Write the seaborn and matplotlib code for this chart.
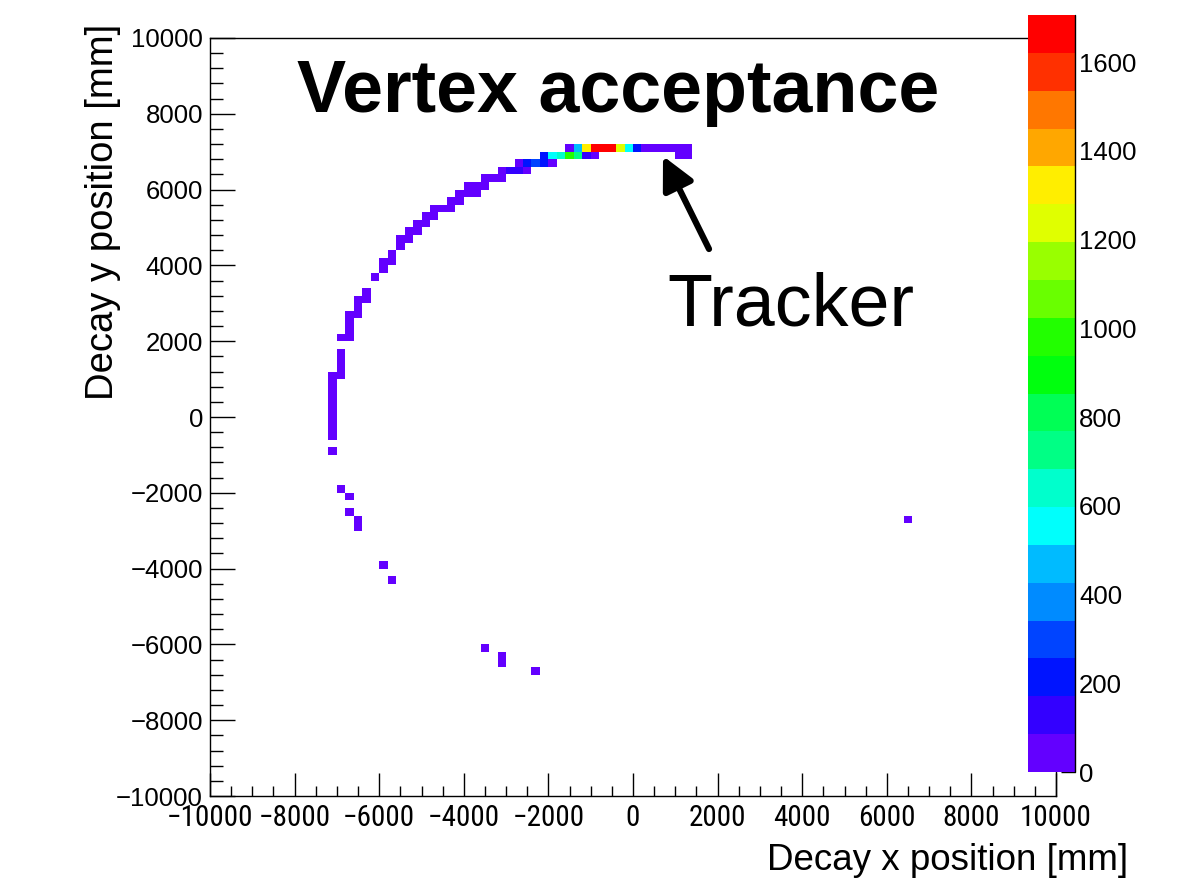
import os
import colorsys
import numpy as np
import pandas as pd
import matplotlib
matplotlib.use("Agg")
import matplotlib.pyplot as plt
from matplotlib.colors import ListedColormap
from matplotlib import font_manager
from matplotlib.font_manager import FontProperties
import seaborn as sns

# ---------------- data (2D histogram, 200 mm bins; bin centres in mm) ----------------
row_y_mm = [7100, 6900, 6700, 6500, 6300, 6100, 5900, 5700, 5500, 5300, 5100, 4900,
            4700, 4500, 4300, 4100, 3900, 3700, 3300, 3100, 2900, 2700, 2500, 2300,
            2100, 1700, 1500, 1300, 1100, 900, 700, 500, 300, 100, -100, -300, -500,
            -900, -1900, -2100, -2500, -2700, -2900, -3900, -4300, -6100, -6300,
            -6500, -6700]
row_x_mm = [
    [-1500, -1300, -1100, -900, -700, -500, -300, -100, 100, 300, 500, 700, 900, 1100, 1300],
    [-2100, -1900, -1700, -1500, -1300, -1100, -900, 1100, 1300],
    [-2700, -2500, -2300, -2100, -1900],
    [-3100, -2900, -2700, -2500],
    [-3500, -3300, -3100],
    [-3900, -3700, -3500],
    [-4100, -3900, -3700],
    [-4300, -4100],
    [-4700, -4500, -4300],
    [-4900, -4700],
    [-5100, -4900],
    [-5300, -5100],
    [-5500, -5300],
    [-5500],
    [-5700],
    [-5900, -5700],
    [-5900],
    [-6100],
    [-6300],
    [-6500, -6300],
    [-6500],
    [-6700, -6500],
    [-6700],
    [-6700],
    [-6900, -6700],
    [-6900],
    [-6900],
    [-6900],
    [-7100, -6900],
    [-7100], [-7100], [-7100], [-7100], [-7100], [-7100], [-7100], [-7100],
    [-7100],
    [-6900],
    [-6700],
    [-6700],
    [-6500, 6500],
    [-6500],
    [-5900],
    [-5700],
    [-3500],
    [-3100],
    [-3100],
    [-2300],
]
row_entries = [
    [50, 470, 1330, 1680, 1700, 1670, 1240, 560, 200, 60, 40, 40, 50, 60, 60],
    [220, 560, 640, 980, 720, 130, 50, 40, 40],
    [60, 190, 330, 230, 50],
    [40, 120, 130, 50],
    [30, 40, 40],
    [30, 30, 30],
    [20, 30, 20],
    [20, 20],
    [20, 20, 20],
    [20, 20],
    [20, 20],
    [20, 20],
    [20, 20],
    [15],
    [15],
    [15, 15],
    [15],
    [10],
    [10],
    [10, 10],
    [10],
    [10, 10],
    [10],
    [10],
    [10, 10],
    [10],
    [10],
    [10],
    [10, 10],
    [10], [10], [10], [10], [10], [10], [10], [10],
    [5],
    [5],
    [5],
    [5],
    [5, 5],
    [5],
    [5],
    [5],
    [5],
    [5],
    [5],
    [5],
]

z_max = 1706
cbar_ticks = [0, 200, 400, 600, 800, 1000, 1200, 1400, 1600]
axis_ticks = [-10000, -8000, -6000, -4000, -2000, 0, 2000, 4000, 6000, 8000, 10000]
axis_tick_labels = ["\u221210000", "\u22128000", "\u22126000", "\u22124000", "\u22122000",
                    "0", "2000", "4000", "6000", "8000", "10000"]

title_text = "Vertex acceptance"
note_text = "Tracker"
x_label = "Decay x position [mm]"
y_label = "Decay y position [mm]"

# ---------------- build table ----------------
xs, ys, ws = [], [], []
for yv, xrow, wrow in zip(row_y_mm, row_x_mm, row_entries):
    for xv, wv in zip(xrow, wrow):
        xs.append(xv)
        ys.append(yv)
        ws.append(wv)
df = pd.DataFrame({"x": xs, "y": ys, "w": ws})

# ---------------- style ----------------
sns.set_style("white")
plt.rcParams["font.family"] = ["Liberation Sans", "DejaVu Sans"]
plt.rcParams["axes.unicode_minus"] = True
for key in ["text.color", "axes.labelcolor", "xtick.color", "ytick.color", "axes.edgecolor"]:
    plt.rcParams[key] = "black"

# narrow font for the x tick labels if one is installed
xtick_fp = FontProperties(family="Liberation Sans", size=18.5)
prefs = [("liberationsansnarrow-regular", 23), ("robotocondensed-regular", 21),
         ("notosans-condensed.", 21), ("notosanscondensed-regular", 21),
         ("opensans_condensed-regular", 21), ("opensans-condensed", 21)]
paths = [f.fname for f in font_manager.fontManager.ttflist]
found = False
for key, size in prefs:
    for p in paths:
        if os.path.basename(p).lower().replace(" ", "").startswith(key):
            xtick_fp = FontProperties(fname=p, size=size)
            found = True
            break
    if found:
        break

# ROOT "pretty" palette, 20 contour levels
cols = []
for k in range(20):
    idx = int((k + 0.99) * 50 / 20)
    hue = 280.0 - (idx + 1) * (280.0 / 50)
    cols.append(colorsys.hls_to_rgb(hue / 360.0, 0.5, 1.0))
cmap = ListedColormap(cols)

W, H = 1194, 880
fig = plt.figure(figsize=(W / 100, H / 100), dpi=100)
fig.patch.set_facecolor("white")

ax = fig.add_axes([210 / W, 1 - 796 / H, 846 / W, 758 / H])
sns.histplot(data=df, x="x", y="y", weights="w", bins=100,
             binrange=((-10000, 10000), (-10000, 10000)),
             cmap=cmap, vmin=0, vmax=z_max, ax=ax, cbar=False)
ax.set_xlim(-10000, 10000)
ax.set_ylim(-10000, 10000)
ax.set_xlabel("")
ax.set_ylabel("")
ax.grid(False)
for sp in ax.spines.values():
    sp.set_linewidth(1.0)
    sp.set_color("black")

ax.set_xticks(axis_ticks, labels=axis_tick_labels, fontproperties=xtick_fp)
ax.set_yticks(axis_ticks)
ax.set_xticks(np.arange(-10000, 10001, 500), minor=True)
ax.set_yticks(np.arange(-10000, 10001, 400), minor=True)
ax.tick_params(axis="x", which="both", bottom=True, top=False, direction="in",
               width=1, color="black")
ax.tick_params(axis="x", which="major", length=16.5, pad=6)
ax.tick_params(axis="x", which="minor", length=7.5)
ax.tick_params(axis="y", which="both", left=True, right=False, direction="in",
               width=1, color="black")
ax.tick_params(axis="y", which="major", length=18, pad=5, labelsize=18.5)
ax.tick_params(axis="y", which="minor", length=9)

# colour bar (drawn over the right part of the frame, as in ROOT)
cax = fig.add_axes([1028 / W, 1 - 772 / H, 47 / W, 757 / H])
mesh = ax.collections[0]
cb = fig.colorbar(mesh, cax=cax, ticks=cbar_ticks)
cb.outline.set_visible(False)
cax.yaxis.set_ticks_position("right")
cax.tick_params(axis="y", which="major", right=True, left=False, direction="in",
                length=10, width=1, color="black", pad=3, labelsize=18.5)
cax.tick_params(axis="y", which="minor", length=0)
cax.plot([1, 1], [0, 1], transform=cax.transAxes, color="black", lw=1, clip_on=False)

# texts
fig.text(297 / W, 1 - 112 / H, title_text, fontsize=53, fontweight="bold",
         ha="left", va="baseline", color="black")
fig.text(667 / W, 1 - 325 / H, note_text, fontsize=53, ha="left", va="baseline",
         color="black")
ax.annotate("", xy=(663 / W, 1 - 156 / H), xytext=(709 / W, 1 - 249 / H),
            xycoords="figure fraction", textcoords="figure fraction",
            arrowprops=dict(arrowstyle="-|>,head_length=0.9,head_width=0.45",
                            lw=4.5, color="black", mutation_scale=22,
                            shrinkA=0, shrinkB=0))
fig.text(1128 / W, 1 - 870 / H, x_label, fontsize=26.5, ha="right", va="baseline",
         color="black")
fig.text(103 / W, 1 - 24 / H, y_label, fontsize=27.5, rotation=90, ha="center", va="top",
         color="black")

fig.savefig("out.png", dpi=100)
